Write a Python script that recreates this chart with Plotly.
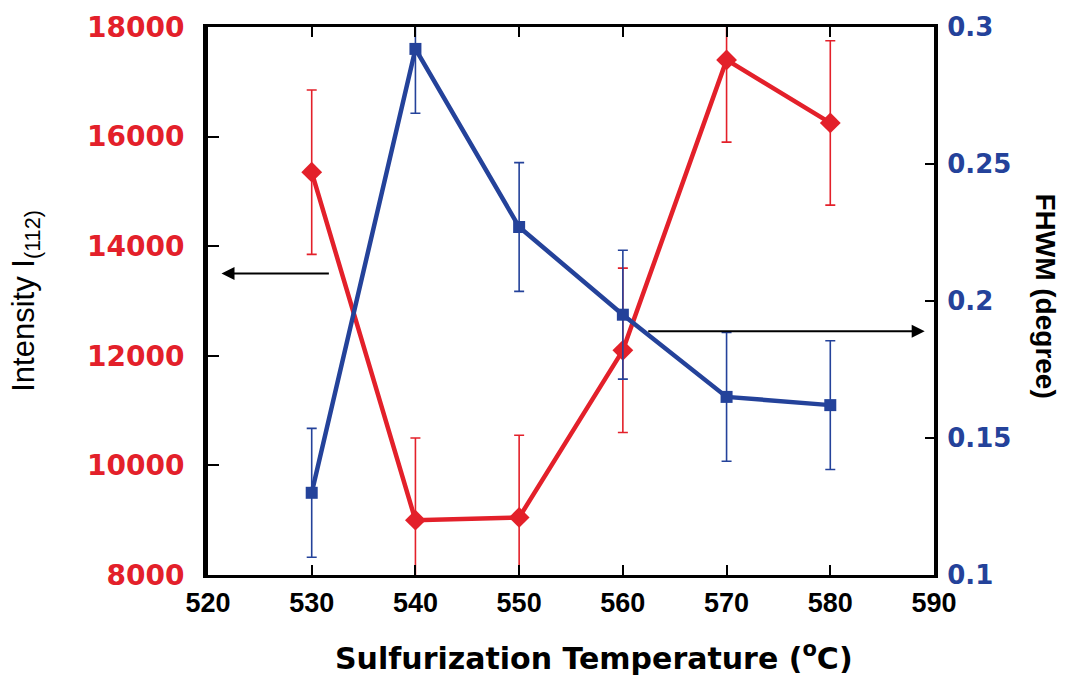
import plotly.graph_objects as go

# Sulfurization temperature (°C)
temperature = [530, 540, 550, 560, 570, 580]

# (112) peak intensity and its uncertainty
intensity = [15350, 9000, 9050, 12100, 17400, 16250]
intensity_err = [1500, 1500, 1500, 1500, 1500, 1500]

# Full width at half maximum (degree) and its uncertainty
fwhm = [0.130, 0.292, 0.227, 0.195, 0.165, 0.162]
fwhm_err = [0.0235, 0.0235, 0.0235, 0.0235, 0.0235, 0.0235]

x_ticks = [520, 530, 540, 550, 560, 570, 580, 590]
left_ticks = [8000, 10000, 12000, 14000, 16000, 18000]
left_tick_text = ["8000", "10000", "12000", "14000", "16000", "18000"]
right_ticks = [0.1, 0.15, 0.2, 0.25, 0.3]
right_tick_text = ["0.1", "0.15", "0.2", "0.25", "0.3"]

RED = "#E3202A"
BLUE = "#24429A"

fig = go.Figure()

fig.add_trace(go.Scatter(
    x=temperature, y=intensity, yaxis="y",
    mode="lines+markers",
    line=dict(color=RED, width=4.5),
    marker=dict(symbol="diamond", size=16, color=RED),
    error_y=dict(type="data", array=intensity_err, color=RED, thickness=1.6, width=5),
    showlegend=False,
))

fig.add_trace(go.Scatter(
    x=temperature, y=fwhm, yaxis="y2",
    mode="lines+markers",
    line=dict(color=BLUE, width=4.5),
    marker=dict(symbol="square", size=12, color=BLUE),
    error_y=dict(type="data", array=fwhm_err, color=BLUE, thickness=1.6, width=5),
    showlegend=False,
))

fig.update_layout(
    width=1066, height=675,
    margin=dict(l=208, r=132, t=16, b=100),
    paper_bgcolor="white", plot_bgcolor="white",
    xaxis=dict(
        range=[520, 590], tickvals=x_ticks,
        showgrid=False, zeroline=False,
        showline=True, linewidth=3, linecolor="black", mirror="ticks",
        ticks="inside", ticklen=10, tickwidth=2, tickcolor="black",
        tickfont=dict(family="Liberation Sans, Arial", size=27, color="black", weight="bold"),
        ticklabelstandoff=2,
    ),
    yaxis=dict(
        range=[8000, 18000], tickvals=left_ticks, ticktext=left_tick_text,
        showgrid=False, zeroline=False,
        showline=True, linewidth=5, linecolor="black",
        ticks="inside", ticklen=11, tickwidth=2, tickcolor="black",
        tickfont=dict(family="DejaVu Sans", size=28, color=RED, weight="bold"),
        ticklabelstandoff=13,
    ),
    yaxis2=dict(
        range=[0.1, 0.3], tickvals=right_ticks, ticktext=right_tick_text,
        overlaying="y", side="right",
        showgrid=False, zeroline=False,
        showline=True, linewidth=4, linecolor="black",
        ticks="inside", ticklen=9, tickwidth=2, tickcolor="black",
        tickfont=dict(family="DejaVu Sans", size=26, color=BLUE, weight="bold"),
        ticklabelstandoff=4,
    ),
)

annotations = [
    # axis titles
    dict(text="Sulfurization Temperature (<sup>o</sup>C)", xref="paper", yref="paper",
         x=0.532, y=-0.148, xanchor="center", yanchor="middle", showarrow=False,
         font=dict(family="DejaVu Sans", size=30, color="black", weight="bold")),
    dict(text="Intensity I<sub>(112)</sub>", xref="paper", yref="paper",
         x=-0.251, y=0.50, xanchor="center", yanchor="middle", textangle=-90, showarrow=False,
         font=dict(family="Liberation Sans, Arial", size=31, color="black")),
    dict(text="FHWM (degree)", xref="paper", yref="paper",
         x=1.153, y=0.51, xanchor="center", yanchor="middle", textangle=90, showarrow=False,
         font=dict(family="Liberation Sans, Arial", size=28, color="black", weight="bold")),
    # arrows pointing to the axis each series belongs to
    dict(x=521.3, y=13500, ax=531.8, ay=13500, xref="x", yref="y", axref="x", ayref="y",
         text="", showarrow=True, arrowhead=2, arrowsize=1.3, arrowwidth=2,
         arrowcolor="black", standoff=0, startstandoff=0),
    dict(x=589.1, y=0.189, ax=562.3, ay=0.189, xref="x", yref="y2", axref="x", ayref="y2",
         text="", showarrow=True, arrowhead=2, arrowsize=1.3, arrowwidth=2,
         arrowcolor="black", standoff=0, startstandoff=0),
]
fig.update_layout(annotations=annotations)

fig.write_html("out.html")
